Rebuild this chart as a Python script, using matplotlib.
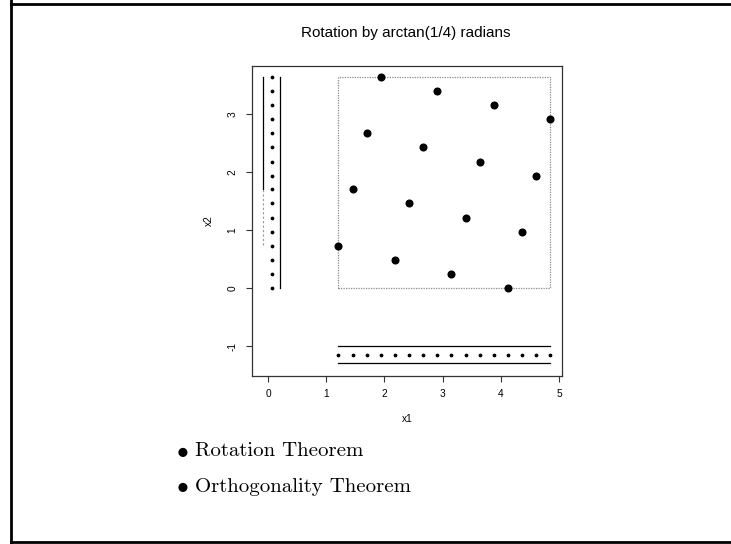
import numpy as np
import matplotlib
matplotlib.use("Agg")
import matplotlib.pyplot as plt
from matplotlib.lines import Line2D

plt.rcParams["mathtext.fontset"] = "cm"

# rotated grid points (x1, x2)
pts_x = [1.21, 2.18, 3.15, 4.12,
         1.46, 2.43, 3.40, 4.37,
         1.70, 2.67, 3.64, 4.61,
         1.94, 2.91, 3.88, 4.85]
pts_y = [0.73, 0.49, 0.24, 0.00,
         1.70, 1.46, 1.21, 0.97,
         2.67, 2.43, 2.18, 1.94,
         3.64, 3.40, 3.15, 2.91]

# where the projected marginals sit
rug_x = 0.06       # column of x2 values
rug_y = -1.15      # row of x1 values
rug_halfwidth = 0.15

title = "Rotation by arctan(1/4) radians"
bullets = ["Rotation Theorem", "Orthogonality Theorem"]

xticks = [0, 1, 2, 3, 4, 5]
yticks = [-1, 0, 1, 2, 3]

fig = plt.figure(figsize=(7.31, 5.44), dpi=100)
ax = fig.add_axes([252 / 731, 1 - 376 / 544, 310 / 731, 310 / 544])

px = np.array(pts_x)
py = np.array(pts_y)

# bounding box of the rotated points
ax.plot([px.min(), px.max(), px.max(), px.min(), px.min()],
        [py.min(), py.min(), py.max(), py.max(), py.min()],
        ls=(0, (1, 1)), color="#8a8a8a", lw=0.9)

ax.plot(px, py, "o", color="black", ms=4.8)

# x2 marginal on the left
ys = np.sort(py)
ax.plot(np.full(len(ys), rug_x), ys, "o", color="black", ms=1.7)
ax.plot([rug_x + rug_halfwidth] * 2, [ys.min(), ys.max()], color="black", lw=0.9)
ax.plot([rug_x - rug_halfwidth] * 2, [1.70, ys.max()], color="black", lw=0.9)
ax.plot([rug_x - rug_halfwidth] * 2, [0.75, 1.70], color="#999999", lw=0.8,
        ls=(0, (2, 2)))

# x1 marginal on the bottom
xs = np.sort(px)
ax.plot(xs, np.full(len(xs), rug_y), "o", color="black", ms=1.7)
ax.plot([xs.min(), xs.max()], [rug_y + rug_halfwidth] * 2, color="black", lw=0.9)
ax.plot([xs.min(), xs.max()], [rug_y - rug_halfwidth] * 2, color="black", lw=0.9)

ax.set_xlim(-0.275, 5.05)
ax.set_ylim(-1.517, 3.83)
ax.set_xticks(xticks)
ax.set_yticks(yticks)
ax.set_xticklabels([str(t) for t in xticks], fontsize=7.3, family="Liberation Sans")
ax.set_yticklabels([str(t) for t in yticks], fontsize=7.3, family="Liberation Sans",
                   rotation=90, va="center")
ax.tick_params(length=4.3, width=0.8, color="#333333")
ax.tick_params(axis="x", pad=5)
ax.tick_params(axis="y", pad=6)
for s in ax.spines.values():
    s.set_linewidth(0.9)
    s.set_color("#333333")

ax.set_xlabel("x1", fontsize=7.3, family="Liberation Sans", labelpad=11)
ax.set_ylabel("x2", fontsize=7.3, family="Liberation Sans", labelpad=10)

fig.text(406 / 731, 1 - 33 / 544, title, ha="center", va="center",
         fontsize=11, family="Liberation Sans")

# bullet list under the plot
for k, item in enumerate(bullets):
    yb = 1 - (456.5 + 35.5 * k) / 544
    fig.text(176 / 731, yb, r"$\bullet$", fontsize=17, va="baseline")
    fig.text(195 / 731, yb, item, fontsize=15, family="cmr10", va="baseline")

# slide frame
W, H = 731, 544
frame = dict(color="black", lw=2.0, transform=fig.transFigure)
fig.add_artist(Line2D([10.5 / W, 10.5 / W], [0, 1], **frame))
fig.add_artist(Line2D([10.5 / W, 1], [1 - 3.5 / H, 1 - 3.5 / H], **frame))
fig.add_artist(Line2D([10.5 / W, 1], [1 - 541.5 / H, 1 - 541.5 / H], **frame))

fig.savefig("out.png", dpi=100)
